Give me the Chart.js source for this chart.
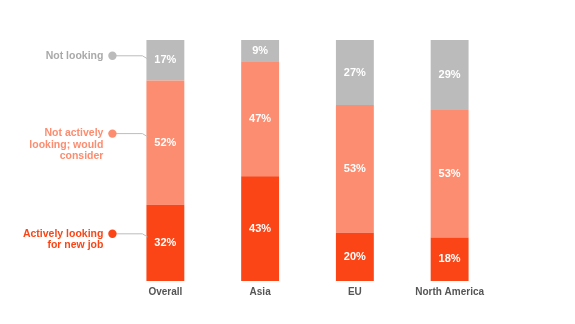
<!DOCTYPE html>
<html>
<head>
<meta charset="utf-8">
<script src="https://cdn.jsdelivr.net/npm/chart.js@4/dist/chart.umd.min.js"></script>
<style>
html,body{margin:0;padding:0;background:#fff;}
#wrap{width:575px;height:324px;position:relative;}
</style>
</head>
<body>
<div id="wrap"><canvas id="c" width="575" height="324"></canvas></div>
<script>
const categories = ["Overall", "Asia", "EU", "North America"];
const activelyLooking = [32, 43, 20, 18];
const notActivelyLooking = [52, 47, 53, 53];
const notLooking = [17, 9, 27, 29];
const seriesNames = [
  ["Actively looking", "for new job"],
  ["Not actively", "looking; would", "consider"],
  ["Not looking"]
];
const seriesColors = ["#FB4516", "#FC8D70", "#BBBBBB"];
const legendTextColors = ["#FB4516", "#FC8D70", "#A9A9A9"];

const rawSeries = [activelyLooking, notActivelyLooking, notLooking];
const totals = categories.map((_, i) => rawSeries.reduce((s, arr) => s + arr[i], 0));
const normalized = rawSeries.map(arr => arr.map((v, i) => v / totals[i] * 100));

const FONT = "'Liberation Sans', Arial, sans-serif";

const labelPlugin = {
  id: 'segLabels',
  afterDatasetsDraw(chart) {
    const ctx = chart.ctx;
    ctx.save();
    ctx.font = "bold 11px " + FONT;
    ctx.fillStyle = "#FFFFFF";
    ctx.textAlign = "center";
    ctx.textBaseline = "middle";
    chart.data.datasets.forEach((ds, di) => {
      const meta = chart.getDatasetMeta(di);
      meta.data.forEach((bar, i) => {
        const cy = (bar.y + bar.base) / 2;
        ctx.fillText(rawSeries[di][i] + "%", bar.x, cy);
      });
    });
    ctx.restore();
  }
};

const sideLegend = {
  id: 'sideLegend',
  afterDatasetsDraw(chart) {
    const ctx = chart.ctx;
    ctx.save();
    chart.data.datasets.forEach((ds, di) => {
      const bar = chart.getDatasetMeta(di).data[0];
      const segCenter = (bar.y + bar.base) / 2;
      const lines = seriesNames[di];
      const lift = lines.length === 1 ? 4.5 : 9;
      const dotY = segCenter - lift;
      const barLeft = bar.x - bar.width / 2;
      const dotX = barLeft - 34;
      ctx.strokeStyle = "#BDBDBD";
      ctx.lineWidth = 1;
      ctx.beginPath();
      ctx.moveTo(dotX + 3, dotY);
      ctx.lineTo(barLeft - 4, dotY);
      ctx.lineTo(barLeft + 1, dotY + 3);
      ctx.stroke();
      ctx.fillStyle = seriesColors[di];
      ctx.beginPath();
      ctx.arc(dotX, dotY, 4.2, 0, Math.PI * 2);
      ctx.fill();
      ctx.font = "bold 10.5px " + FONT;
      ctx.fillStyle = legendTextColors[di];
      ctx.textAlign = "right";
      ctx.textBaseline = "middle";
      lines.forEach((t, li) => {
        ctx.fillText(t, dotX - 9, dotY + li * 11.5);
      });
    });
    ctx.restore();
  }
};

new Chart(document.getElementById('c'), {
  type: 'bar',
  data: {
    labels: categories,
    datasets: normalized.map((arr, di) => ({
      label: seriesNames[di].join(" "),
      data: arr,
      backgroundColor: seriesColors[di],
      borderWidth: 0,
      barPercentage: 0.4,
      categoryPercentage: 1.0
    }))
  },
  options: {
    responsive: false,
    animation: false,
    layout: { padding: { left: 118, right: 78, top: 40, bottom: 21 } },
    plugins: { legend: { display: false }, tooltip: { enabled: false } },
    scales: {
      x: {
        stacked: true,
        grid: { display: false, drawTicks: false },
        border: { display: false },
        ticks: { color: "#555555", font: { family: FONT, size: 10, weight: 'bold' }, padding: 5, maxRotation: 0 }
      },
      y: {
        stacked: true,
        display: false,
        min: 0,
        max: 100
      }
    }
  },
  plugins: [labelPlugin, sideLegend]
});
</script>
</body>
</html>
